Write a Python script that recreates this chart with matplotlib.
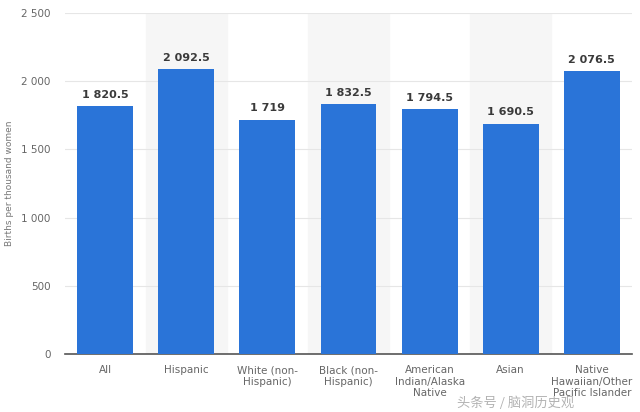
import matplotlib.pyplot as plt

categories = ["All", "Hispanic", "White (non-\nHispanic)", "Black (non-\nHispanic)",
              "American\nIndian/Alaska\nNative", "Asian", "Native\nHawaiian/Other\nPacific Islander"]
values = [1820.5, 2092.5, 1719, 1832.5, 1794.5, 1690.5, 2076.5]
yticks = [0, 500, 1000, 1500, 2000, 2500]


def fmt(v):
    s = "{:,.1f}".format(v) if v % 1 else "{:,.0f}".format(v)
    return s.replace(",", " ")


fig = plt.figure(figsize=(6.4, 4.12), dpi=100)
ax = fig.add_axes([0.101, 0.141, 0.887, 0.827])

x = list(range(len(categories)))
# alternating shaded columns
for i in x:
    if i % 2 == 1:
        ax.axvspan(i - 0.5, i + 0.5, color="#f6f6f6", zorder=0)

ax.bar(x, values, width=0.69, color="#2a74d8", zorder=3)
for xi, v in zip(x, values):
    ax.text(xi, v + 45, fmt(v), ha="center", va="bottom", fontsize=8,
            fontweight="bold", color="#3a3a3a", zorder=4)

ax.set_xlim(-0.5, len(categories) - 0.5)
ax.set_ylim(0, 2500)
ax.set_yticks(yticks)
ax.set_yticklabels([fmt(t) for t in yticks])
ax.yaxis.grid(True, color="#e6e6e6", linewidth=0.8, zorder=1)
ax.set_axisbelow(True)
ax.set_xticks(x)
ax.set_xticklabels(categories)
ax.tick_params(axis="both", length=0, labelsize=7.5, labelcolor="#666666")
ax.tick_params(axis="x", pad=8)
ax.tick_params(axis="y", pad=10)
for s in ["top", "right", "left"]:
    ax.spines[s].set_visible(False)
ax.spines["bottom"].set_color("#555555")
ax.spines["bottom"].set_linewidth(1.2)
ax.set_ylabel("Births per thousand women", fontsize=6.5, color="#777777")
ax.yaxis.set_label_coords(-0.09, 0.5)

fig.text(0.897, 0.006, "头条号 / 脑洞历史观", fontsize=9.5, color="#aaaaaa",
         ha="right", va="bottom", family=["Noto Sans CJK SC", "DejaVu Sans"], alpha=0.9)

fig.savefig("out.png", dpi=100)
